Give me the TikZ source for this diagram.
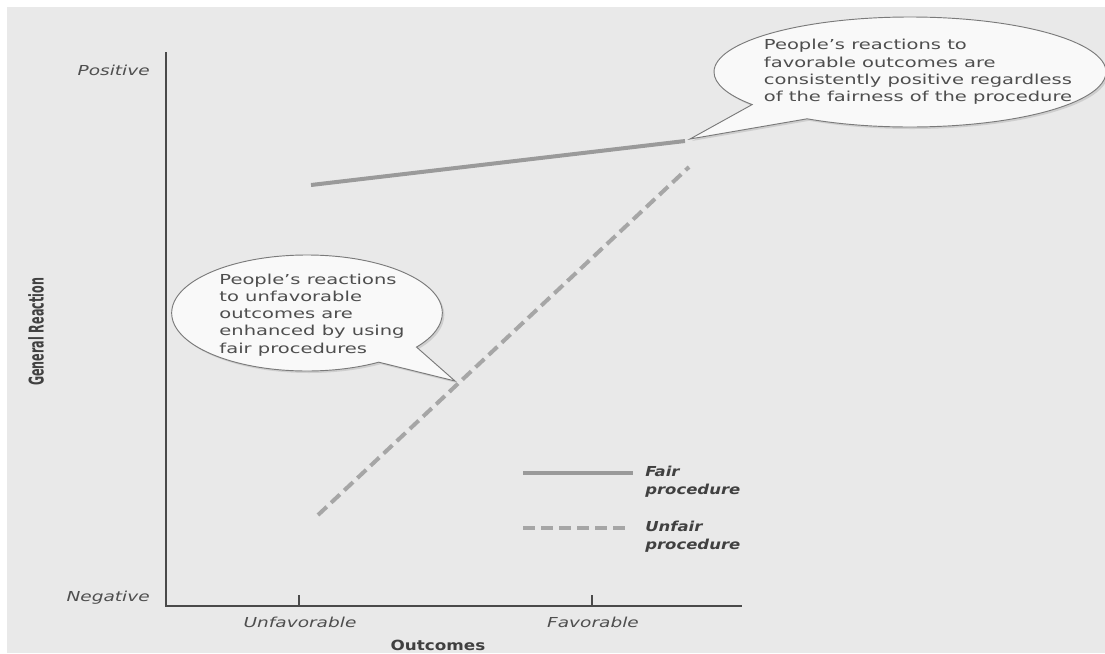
\documentclass[tikz,border=0pt]{standalone}
\usepackage{fontspec}
\setmainfont{DejaVu Sans}
\newfontfamily\callfont[FakeStretch=1.42]{DejaVu Sans}
\newfontfamily\axfont[FakeStretch=1.35]{DejaVu Sans}
\newfontfamily\legfont[FakeStretch=1.2]{DejaVu Sans}
\newfontfamily\ylfont[FakeStretch=0.55]{DejaVu Sans}
\usetikzlibrary{shapes.callouts,shadows}
\definecolor{bg}{HTML}{E9E9E9}
\definecolor{axcol}{HTML}{4A4A4A}
\definecolor{txt}{HTML}{4E4E4E}
\definecolor{dtxt}{HTML}{404040}
\definecolor{faircol}{HTML}{9A9A9A}
\definecolor{unfcol}{HTML}{A6A6A6}
\definecolor{callfill}{HTML}{F9F9F9}
\definecolor{callline}{HTML}{7A7A7A}
\begin{document}
\begin{tikzpicture}[x=0.75pt,y=-0.75pt,
  axisline/.style={draw=axcol,line width=2.2pt},
  tickline/.style={draw=axcol,line width=1.5pt},
  fairline/.style={draw=faircol,line width=3pt},
  unfairline/.style={draw=unfcol,line width=3pt,dash pattern=on 9pt off 4.5pt},
  callbox/.style={ellipse callout,draw=callline,line width=0.7pt,fill=callfill,
    callout pointer arc=22,inner sep=0pt,
    drop shadow={opacity=0.25,shadow xshift=1.5pt,shadow yshift=-1.5pt}},
  calltext/.style={align=left,inner sep=0pt,text=txt,
    font={\callfont\fontsize{10.3pt}{12.9pt}\selectfont}},
  axlabel/.style={inner sep=0pt,text=txt,font={\axfont\itshape\fontsize{10.3pt}{12pt}\selectfont}},
  legtext/.style={align=left,inner sep=0pt,text=dtxt,
    font={\legfont\bfseries\itshape\fontsize{10.3pt}{13.5pt}\selectfont}}
]
\useasboundingbox (0,0) rectangle (1105,653);
\fill[white] (0,0) rectangle (1105,653);
\fill[bg] (7,7) rectangle (1105,653);

% axes
\coordinate (ytop) at (166,52);
\coordinate (O) at (166,606);
\coordinate (xend) at (742,606);
\draw[axisline] (ytop) -- (O) -- (xend);
\coordinate (tu) at (299,606);
\coordinate (tf) at (592,606);
\draw[tickline] (tu) -- ++(0,-11);
\draw[tickline] (tf) -- ++(0,-11);

% axis labels
\node[axlabel,anchor=east] (pos) at (150,70) {Positive};
\node[axlabel,anchor=east] (neg) at (150,598) {Negative};
\node[axlabel] (unf) at (300,622) {Unfavorable};
\node[axlabel] (fav) at (593,622) {Favorable};
\node[inner sep=0pt,text=dtxt,font={\legfont\bfseries\fontsize{10.5pt}{12pt}\selectfont}] (outc) at (438,645) {Outcomes};
\node[inner sep=0pt,text=dtxt,rotate=90,font={\ylfont\bfseries\fontsize{15.2pt}{17pt}\selectfont}] (genr) at (36,332) {General Reaction};

% data lines
\coordinate (f1) at (311,185);
\coordinate (f2) at (685,141);
\coordinate (u1) at (318,515);
\coordinate (u2) at (689,167);
\draw[fairline] (f1) -- (f2);
\draw[unfairline] (u1) -- (u2);

% legend
\coordinate (lf1) at (523,473);
\coordinate (lf2) at (633,473);
\coordinate (lu1) at (523,528);
\coordinate (lu2) at (630,528);
\draw[fairline] (lf1) -- (lf2);
\draw[unfairline] (lu1) -- (lu2);
\node[legtext,anchor=west] (lft) at (645,482) {Fair\\procedure};
\node[legtext,anchor=west] (lut) at (645,537) {Unfair\\procedure};

% callouts
\coordinate (ftip) at (690,139);
\coordinate (utip) at (455,381);
\node[callbox,minimum width=294pt,minimum height=82.5pt,callout absolute pointer={(ftip)}] (c1) at (910,72) {};
\node[calltext] (t1) at (918,72) {People’s reactions to\\favorable outcomes are\\consistently positive regardless\\of the fairness of the procedure};
\node[callbox,minimum width=203pt,minimum height=87pt,callout absolute pointer={(utip)}] (c2) at (307,313) {};
\node[calltext] (t2) at (312,315) {People’s reactions\\to unfavorable\\outcomes are\\enhanced by using\\fair procedures};
\end{tikzpicture}
\end{document}
